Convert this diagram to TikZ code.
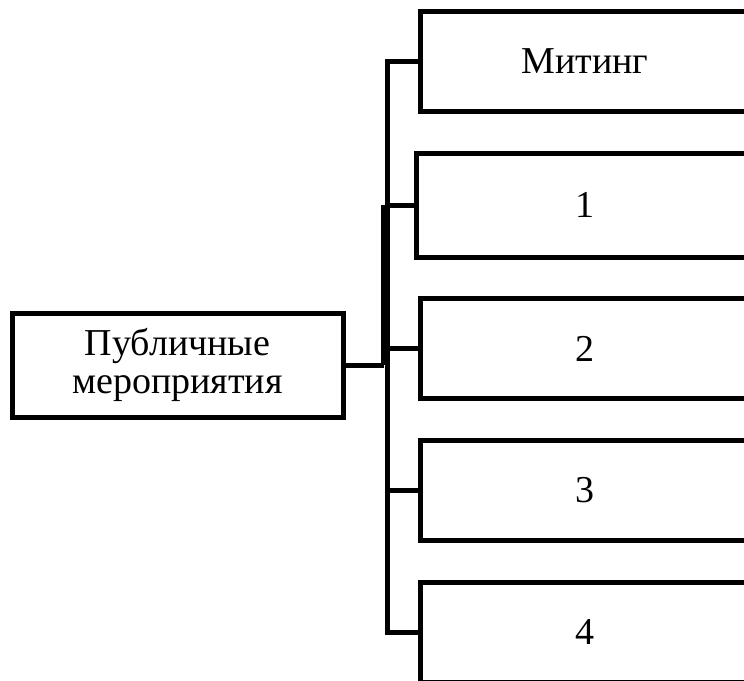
\documentclass[tikz,border=0pt]{standalone}
\usepackage{fontspec}
\setmainfont{Liberation Serif}
\begin{document}
\begin{tikzpicture}[x=0.5pt,y=-0.5pt,
  box/.style={draw, line width=2.5pt, rectangle, inner sep=0pt,
    font=\fontsize{19}{19}\selectfont, align=center},
  rbox/.style={box, minimum width=165pt, minimum height=50pt},
  conn/.style={draw, line width=2.5pt}]
\useasboundingbox (0,0) rectangle (744,680);
\clip (0,0) rectangle (744,680);
\fill[white] (0,0) rectangle (744,680);
% nodes
\node[box, minimum width=165.5pt, minimum height=52pt] (pm) at (177.5,365) {Публичные\\мероприятия};
\node[rbox] (m)  at (585,61)  {Митинг};
\node[rbox, minimum height=52pt, minimum width=169pt] (b1) at (585,205) {1};
\node[rbox] (b2) at (585,348.5) {2};
\node[rbox] (b3) at (585,490) {3};
\node[rbox] (b4) at (585,632) {4};
% trunk
\coordinate (tr) at (387,0);
\coordinate (tr2) at (383.5,0);
\draw[conn] (m.west) -| (tr |- b4.west) -- (b4.west);
\draw[conn] (tr2 |- b1.west) -- (tr2 |- pm.east);
\draw[conn] (tr |- b1.west) -- (b1.west);
\draw[conn] (tr |- b2.west) -- (b2.west);
\draw[conn] (tr |- b3.west) -- (b3.west);
\draw[conn] (pm.east) -- (tr2 |- pm.east);
\end{tikzpicture}
\end{document}
